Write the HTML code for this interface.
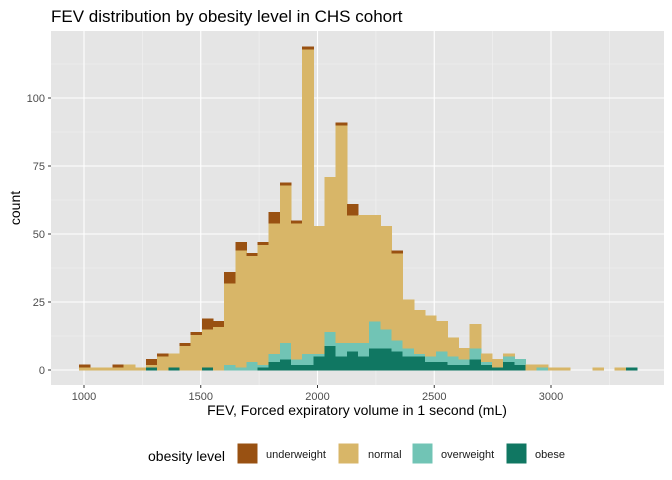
<!DOCTYPE html>
<html><head><meta charset="utf-8"><style>
body{margin:0;background:#fff;}
svg{font-family:"Liberation Sans",Arial,sans-serif;display:block;}
</style></head><body>
<svg id="chart" width="672" height="480">
<text x="51" y="22" font-size="17" fill="#000">FEV distribution by obesity level in CHS cohort</text>
<rect x="51" y="31" width="613" height="354" fill="#e5e5e5"/>
<g id="grid"></g>
<g id="bars" shape-rendering="crispEdges"></g>
<g id="axes"></g>
<text x="357" y="415" font-size="14" text-anchor="middle" fill="#000">FEV, Forced expiratory volume in 1 second (mL)</text>
<text transform="translate(20,208) rotate(-90)" font-size="14" text-anchor="middle" fill="#000">count</text>
<g>
<text x="148" y="461" font-size="14" fill="#000">obesity level</text>
<rect x="237" y="443" width="21" height="21" fill="#995112" stroke="#fff"/>
<text x="266" y="458" font-size="11" fill="#1a1a1a">underweight</text>
<rect x="338" y="443" width="21" height="21" fill="#d8b668" stroke="#fff"/>
<text x="368" y="458" font-size="11" fill="#1a1a1a">normal</text>
<rect x="412" y="443" width="21" height="21" fill="#71c4b5" stroke="#fff"/>
<text x="441" y="458" font-size="11" fill="#1a1a1a">overweight</text>
<rect x="506" y="443" width="21" height="21" fill="#107762" stroke="#fff"/>
<text x="535" y="458" font-size="11" fill="#1a1a1a">obese</text>
</g>
</svg>
<script>
const binStart = 978.6;
const binWidth = 47.8;
const obese =      [0,0,0,0,0,0,1,0,1,0,0,1,0,0,0,0,1,3,4,2,2,5,9,5,7,5,8,8,7,5,5,3,3,2,2,4,2,1,3,2,0,0,0,0,0,0,0,0,0,1];
const overweight = [0,0,0,0,0,0,0,0,0,0,0,0,0,2,1,3,1,3,6,2,4,1,5,5,3,5,10,7,4,3,1,2,4,3,2,4,1,0,2,2,0,1,0,0,0,0,0,0,0,0];
const normal =     [1,1,1,1,2,1,1,5,5,9,13,14,16,30,43,39,44,48,58,50,112,47,57,80,47,47,39,38,32,18,16,15,11,7,4,9,3,3,1,0,2,1,1,1,0,0,1,0,1,0];
const underweight =[1,0,0,1,0,0,2,1,0,1,1,4,2,4,3,1,1,4,1,1,1,0,0,1,4,0,0,0,1,0,0,0,0,0,0,0,0,0,0,0,0,0,0,0,0,0,0,0,0,0];
const xTicks = [1000,1500,2000,2500,3000];
const yTicks = [0,25,50,75,100];
const series = [obese, overweight, normal, underweight];
const seriesNames = ['obese','overweight','normal','underweight'];
const colors = ['#107762','#71c4b5','#d8b668','#995112'];
const NS='http://www.w3.org/2000/svg';
function xs(v){return 84 + (v-1000)*0.2335;}
function ys(v){return 370 - v*2.72;}
function mk(tag,attrs,parent){const e=document.createElementNS(NS,tag);for(const k in attrs)e.setAttribute(k,attrs[k]);parent.appendChild(e);return e;}
const grid=document.getElementById('grid'), bars=document.getElementById('bars'), axes=document.getElementById('axes');
for(let i=0;i<xTicks.length+1;i++){const v=xTicks[0]-250+i*500;const x=xs(v);if(x>51&&x<664){
  const l=mk('line',{x1:x,x2:x,y1:31,y2:385,stroke:'#f2f2f2','stroke-width':0.6},grid);
  
  }}
for(let i=0;i<yTicks.length;i++){const v=yTicks[i]+12.5;const y=ys(v);if(y>31){
  const l=mk('line',{x1:51,x2:664,y1:y,y2:y,stroke:'#f2f2f2','stroke-width':0.6},grid);
  
  }}
xTicks.forEach(v=>{const x=xs(v);
  const l=mk('line',{x1:x,x2:x,y1:31,y2:385,stroke:'#fff','stroke-width':1.1},grid);
  
  
  const t=mk('line',{x1:x,x2:x,y1:385,y2:388,stroke:'#333','stroke-width':1},axes);
  
  
  const tx=mk('text',{x:x,y:400,'font-size':11,'text-anchor':'middle',fill:'#4d4d4d'},axes);tx.textContent=v;
  
  });
yTicks.forEach(v=>{const y=ys(v);
  const l=mk('line',{x1:51,x2:664,y1:y,y2:y,stroke:'#fff','stroke-width':1.1},grid);
  
  
  const t=mk('line',{x1:48,x2:51,y1:y,y2:y,stroke:'#333','stroke-width':1},axes);
  
  
  const tx=mk('text',{x:45,y:y+4,'font-size':11,'text-anchor':'end',fill:'#4d4d4d'},axes);tx.textContent=v;
  
  });
for(let i=0;i<normal.length;i++){
  let cum=0;
  const x0=xs(binStart+i*binWidth), x1=xs(binStart+(i+1)*binWidth);
  for(let s=0;s<series.length;s++){const v=series[s][i];if(v>0){
    const r=mk('rect',{x:x0,y:ys(cum+v),width:x1-x0+0.5,height:ys(cum)-ys(cum+v)+0.3,fill:colors[s]},bars);
    
    }
    cum+=v;}
}
</script>
</body></html>
